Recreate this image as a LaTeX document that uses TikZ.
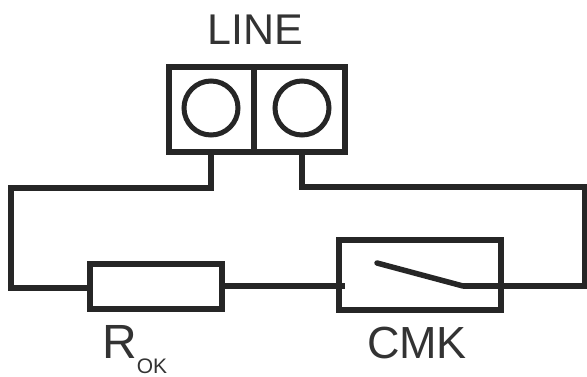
\documentclass[tikz,border=0pt]{standalone}
\usepackage{fontspec}
\setmainfont{Liberation Sans}
\definecolor{wirecolor}{HTML}{262626}
\definecolor{textcolor}{HTML}{333333}
\tikzset{
    wire/.style={wirecolor, line width=5.5pt, line join=miter},
    part/.style={draw=wirecolor, line width=6pt, fill=white, inner sep=0pt, outer sep=0pt, rectangle},
    screw/.style={draw=wirecolor, line width=5pt, circle, inner sep=0pt, outer sep=0pt, minimum size=54pt},
    tag/.style={textcolor, anchor=base, inner sep=0pt}
}
\begin{document}
\begin{tikzpicture}[x=1pt, y=-1pt]
    \useasboundingbox (0, 0) rectangle (587, 376);

    % terminal block
    \node[part, minimum width=176pt, minimum height=85pt] (block) at (256.5, 109.5) {};
    \coordinate (divtop) at (254, 67);
    \coordinate (divbot) at (254, 152);
    \draw[wire] (divtop) -- (divbot);
    \node[screw] (screwl) at (211, 108) {};
    \node[screw] (screwr) at (302, 108) {};
    \coordinate (terml) at (211, 152);
    \coordinate (termr) at (302, 152);

    % parts on the loop
    \node[part, minimum width=132pt, minimum height=45pt] (rok) at (156, 286.5) {};
    \node[part, minimum width=162pt, minimum height=70pt] (cmk) at (420, 275) {};

    % loop
    \coordinate (tl) at (11, 188);
    \coordinate (bl) at (11, 288);
    \coordinate (rokl) at (90, 288);
    \coordinate (rokr) at (222, 286);
    \coordinate (cmkin) at (345, 286);
    \coordinate (pivot) at (463, 286);
    \coordinate (bladeend) at (377, 263);
    \coordinate (br) at (585, 286);
    \coordinate (tr) at (585, 187);
    \draw[wire] (terml) |- (tl) -- (bl) -- (rokl);
    \draw[wire] (rokr) -- (cmkin);
    \draw[wire] (termr) |- (tr) -- (br) -- (pivot);
    \draw[wire, line cap=round] (pivot) -- (bladeend);

    % labels
    \node[tag, font=\fontsize{43}{43}\selectfont] (line) at (255, 44) {LINE};
    \node[tag, font=\fontsize{48}{48}\selectfont, anchor=base west] (rlabel) at (102, 358) {R\raisebox{-15pt}{\fontsize{21}{21}\selectfont OK}};
    \node[tag, font=\fontsize{45}{45}\selectfont] (cmklabel) at (417, 358) {CMK};
\end{tikzpicture}
\end{document}
